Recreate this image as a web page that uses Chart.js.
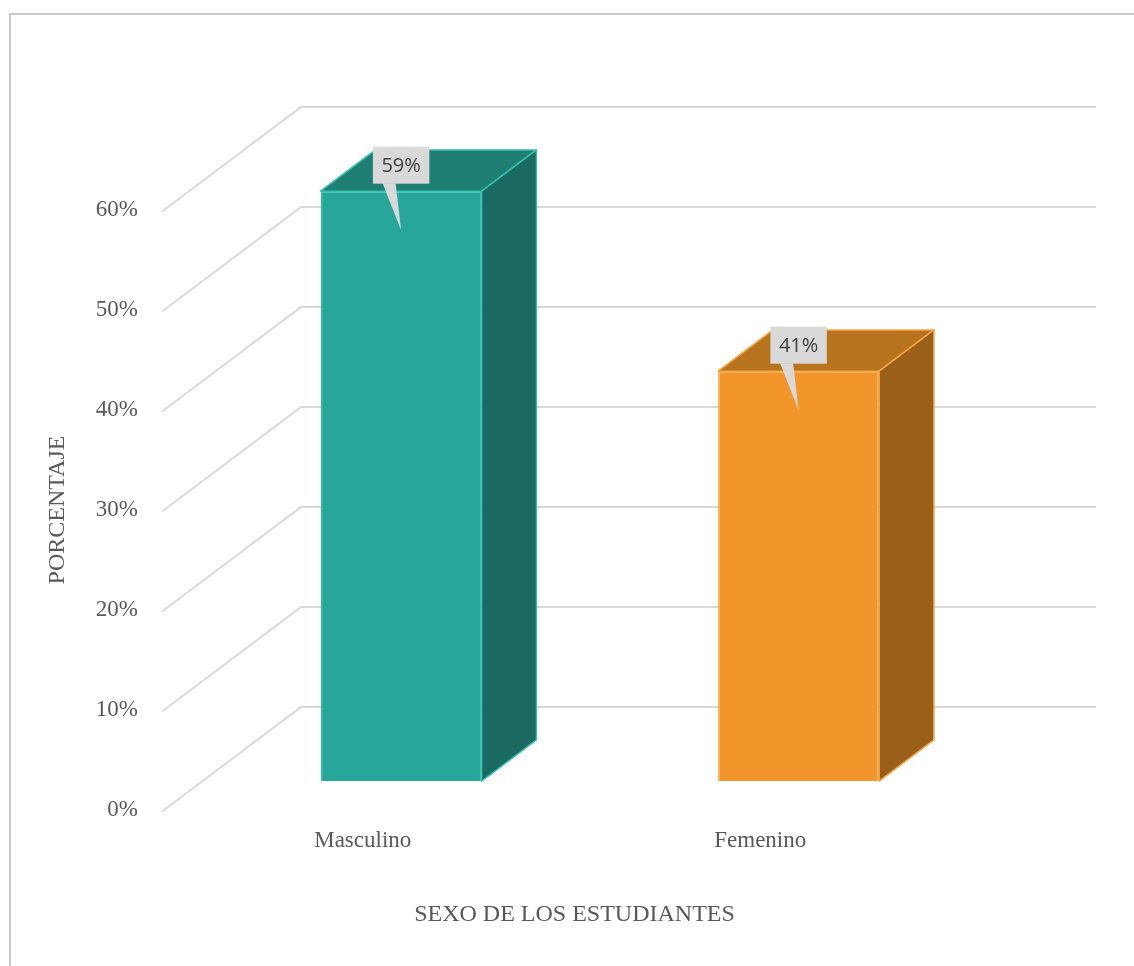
<!DOCTYPE html>
<html>
<head>
<meta charset="utf-8">
<script src="https://cdn.jsdelivr.net/npm/chart.js@4/dist/chart.umd.min.js"></script>
<style>
  body { margin: 0; background: #fff; }
  #wrap { width: 1134px; height: 966px; }
</style>
</head>
<body>
<div id="wrap"><canvas id="grafico" width="1134" height="966"></canvas></div>
<script>
// datos
var categorias = ['Masculino', 'Femenino'];
var porcentajes = [59, 41];
var ticksY = [0, 10, 20, 30, 40, 50, 60];
var tituloX = 'SEXO DE LOS ESTUDIANTES';
var tituloY = 'PORCENTAJE';

// colores de cada barra: frente, tapa, lateral, borde
var frente = ['#27a79a', '#f2952a'];
var tapa = ['#1f7f75', '#b8731e'];
var lateral = ['#1a6a62', '#9a5f18'];
var borde = ['#35bfb0', '#f7a544'];

// profundidad del piso (oblicua) y posicion de las barras dentro de ella
var PROF = { x: 137, y: -103 };
var desdeFrente = 0.28, fondoBarra = 0.40;

var texto = '#595959';
var serif = 'Liberation Serif';

var caja3d = {
  id: 'caja3d',
  beforeDatasetsDraw: function(chart) {
    var ctx = chart.ctx, area = chart.chartArea, y = chart.scales.y;
    // lineas de la cuadricula: diagonal en el piso lateral y horizontal en la pared del fondo
    ctx.save();
    ctx.strokeStyle = '#d9d9d9';
    ctx.lineWidth = 2;
    ticksY.forEach(function(v) {
      var py = y.getPixelForValue(v);
      ctx.beginPath();
      ctx.moveTo(area.left - 2, py + 1.5);
      ctx.lineTo(area.left + PROF.x, py + PROF.y);
      ctx.lineTo(area.right + PROF.x, py + PROF.y);
      ctx.stroke();
    });
    ctx.restore();
    // la cara frontal se dibuja desplazada hacia el fondo
    ctx.save();
    ctx.translate(PROF.x * desdeFrente, PROF.y * desdeFrente);
  },
  afterDatasetsDraw: function(chart) {
    var ctx = chart.ctx;
    ctx.restore();
    var ox = PROF.x * desdeFrente, oy = PROF.y * desdeFrente;
    var dx = PROF.x * fondoBarra, dy = PROF.y * fondoBarra;
    var meta = chart.getDatasetMeta(0);
    meta.data.forEach(function(bar, i) {
      var x0 = bar.x - bar.width / 2 + ox, x1 = bar.x + bar.width / 2 + ox;
      var yt = bar.y + oy, yb = bar.base + oy;
      ctx.save();
      ctx.lineWidth = 1.5;
      ctx.strokeStyle = borde[i];
      ctx.lineJoin = 'round';
      // tapa
      ctx.fillStyle = tapa[i];
      ctx.beginPath();
      ctx.moveTo(x0, yt);
      ctx.lineTo(x1, yt);
      ctx.lineTo(x1 + dx, yt + dy);
      ctx.lineTo(x0 + dx, yt + dy);
      ctx.closePath();
      ctx.fill();
      ctx.stroke();
      // lateral
      ctx.fillStyle = lateral[i];
      ctx.beginPath();
      ctx.moveTo(x1, yt);
      ctx.lineTo(x1 + dx, yt + dy);
      ctx.lineTo(x1 + dx, yb + dy);
      ctx.lineTo(x1, yb);
      ctx.closePath();
      ctx.fill();
      ctx.stroke();
      ctx.restore();

      // etiqueta con globo
      var etiqueta = porcentajes[i] + '%';
      ctx.save();
      ctx.font = '20px "Open Sans"';
      var w = ctx.measureText(etiqueta).width + 17, h = 37;
      var cx = bar.x + ox, cy = yt - 26;
      ctx.fillStyle = '#d9d9d9';
      ctx.fillRect(cx - w / 2, cy - h / 2, w, h);
      ctx.beginPath();
      ctx.moveTo(cx - 18.5, cy + h / 2 - 0.5);
      ctx.lineTo(cx - 5.5, cy + h / 2 - 0.5);
      ctx.lineTo(cx, yt + 39);
      ctx.closePath();
      ctx.fill();
      ctx.fillStyle = '#404040';
      ctx.textAlign = 'center';
      ctx.textBaseline = 'middle';
      ctx.fillText(etiqueta, cx, cy + 1);
      ctx.restore();
    });
  },
  afterDraw: function(chart) {
    var ctx = chart.ctx;
    ctx.save();
    // titulo del eje x, centrado bajo las barras
    ctx.fillStyle = texto;
    ctx.font = '24px "' + serif + '"';
    ctx.textAlign = 'center';
    ctx.textBaseline = 'middle';
    ctx.fillText(tituloX, 574.5, 915);
    // marco del grafico
    ctx.strokeStyle = '#c9c9c9';
    ctx.lineWidth = 2;
    ctx.strokeRect(10, 14, 1200, 1000);
    ctx.restore();
  }
};

new Chart(document.getElementById('grafico'), {
  type: 'bar',
  data: {
    labels: categorias,
    datasets: [{
      data: porcentajes,
      backgroundColor: frente,
      borderColor: borde,
      borderWidth: 1.5,
      categoryPercentage: 1,
      barPercentage: 0.405
    }]
  },
  options: {
    responsive: false,
    animation: false,
    events: [],
    layout: { padding: { top: 210, right: 175, bottom: 0, left: 0 } },
    plugins: { legend: { display: false }, tooltip: { enabled: false } },
    scales: {
      x: {
        grid: { display: false, drawTicks: false },
        border: { display: false },
        ticks: { color: texto, font: { family: serif, size: 23 }, padding: 17 },
        afterFit: function(s) { s.height = 156; }
      },
      y: {
        min: 0, max: 60,
        grid: { display: false, drawTicks: false },
        border: { display: false },
        ticks: {
          stepSize: 10, color: texto, padding: 26,
          font: { family: serif, size: 23 },
          callback: function(v) { return v + '%'; }
        },
        title: {
          display: true, text: tituloY, color: texto,
          font: { family: serif, size: 24 }, padding: { top: 43, bottom: 0 }
        },
        afterFit: function(s) { s.width = 164; }
      }
    }
  },
  plugins: [caja3d]
});
</script>
</body>
</html>
